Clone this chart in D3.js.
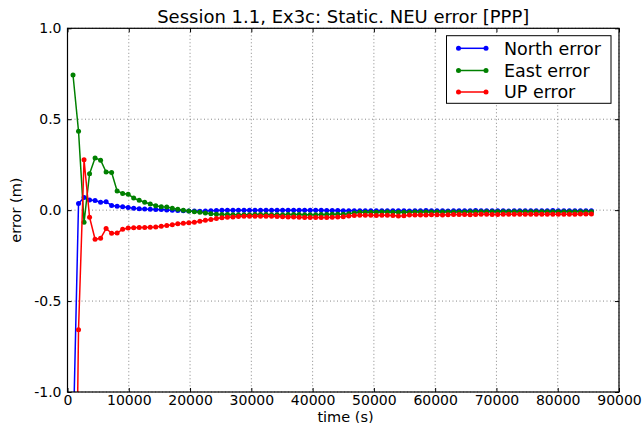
<!DOCTYPE html>
<html>
<head>
<meta charset="utf-8">
<script src="https://cdn.jsdelivr.net/npm/d3@7"></script>
<style>
  html, body { margin: 0; padding: 0; background: #fff; }
  svg { display: block; font-family: "DejaVu Sans", sans-serif; }
</style>
</head>
<body>
<svg id="chart" width="644" height="423"></svg>
<script>
// Epoch spacing of the solution (s); first epoch at 900 s, last at 85500 s
const timeStep = 900;
const epochCount = 95;

const northError = [
  -1.30, 0.037, 0.070, 0.056, 0.053, 0.043, 0.046, 0.026, 0.021, 0.019,
  0.015, 0.011, 0.008, 0.006, 0.005, 0.004, 0.003, 0.001, 0.000, -0.002,
  -0.003, -0.004, -0.005, -0.006, -0.005, -0.003, -0.002, -0.001, 0.000, 0.000,
  0.000, 0.000, 0.000, 0.000, 0.000, 0.000, 0.000, -0.001, -0.001, 0.000,
  0.000, 0.000, 0.000, 0.000, 0.000, -0.001, -0.002, -0.002, -0.002, -0.003,
  -0.003, -0.003, -0.003, -0.003, -0.003, -0.003, -0.003, -0.003, -0.003, -0.003,
  -0.003, -0.004, -0.003, -0.003, -0.002, -0.003, -0.003, -0.003, -0.004, -0.003,
  -0.003, -0.003, -0.003, -0.002, -0.003, -0.003, -0.003, -0.003, -0.003, -0.004,
  -0.003, -0.003, -0.003, -0.003, -0.003, -0.003, -0.003, -0.002, -0.003, -0.003,
  -0.003, -0.003, -0.003, -0.003, -0.003
];

const eastError = [
  0.743, 0.434, -0.067, 0.200, 0.287, 0.275, 0.210, 0.207, 0.105, 0.092,
  0.087, 0.067, 0.054, 0.043, 0.034, 0.024, 0.019, 0.018, 0.010, 0.005,
  0.000, -0.004, -0.009, -0.012, -0.016, -0.020, -0.023, -0.024, -0.024, -0.025,
  -0.025, -0.025, -0.025, -0.024, -0.024, -0.024, -0.025, -0.025, -0.025, -0.024,
  -0.024, -0.024, -0.025, -0.025, -0.025, -0.024, -0.024, -0.023, -0.023, -0.022,
  -0.020, -0.015, -0.012, -0.011, -0.011, -0.011, -0.010, -0.010, -0.011, -0.011,
  -0.011, -0.011, -0.010, -0.010, -0.010, -0.010, -0.010, -0.010, -0.010, -0.010,
  -0.010, -0.010, -0.009, -0.009, -0.009, -0.009, -0.009, -0.009, -0.009, -0.009,
  -0.009, -0.009, -0.009, -0.009, -0.009, -0.009, -0.009, -0.009, -0.009, -0.009,
  -0.009, -0.009, -0.009, -0.009, -0.009
];

const upError = [
  -3.00, -0.657, 0.277, -0.039, -0.160, -0.155, -0.101, -0.127, -0.126, -0.105,
  -0.098, -0.097, -0.096, -0.095, -0.094, -0.093, -0.088, -0.084, -0.080, -0.075,
  -0.072, -0.069, -0.066, -0.061, -0.056, -0.051, -0.046, -0.042, -0.039, -0.037,
  -0.035, -0.034, -0.033, -0.033, -0.033, -0.034, -0.034, -0.035, -0.036, -0.037,
  -0.038, -0.039, -0.040, -0.040, -0.040, -0.040, -0.040, -0.039, -0.038, -0.036,
  -0.032, -0.029, -0.028, -0.028, -0.028, -0.029, -0.028, -0.028, -0.030, -0.032,
  -0.031, -0.027, -0.026, -0.026, -0.026, -0.025, -0.025, -0.026, -0.025, -0.024,
  -0.024, -0.024, -0.025, -0.024, -0.023, -0.023, -0.024, -0.024, -0.023, -0.022,
  -0.023, -0.023, -0.022, -0.022, -0.023, -0.022, -0.022, -0.022, -0.023, -0.022,
  -0.022, -0.022, -0.021, -0.021, -0.021
];

const seriesNames = ["North error", "East error", "UP error"];
const seriesColors = ["#0000ff", "#008000", "#ff0000"];
const xTickValues = [0, 10000, 20000, 30000, 40000, 50000, 60000, 70000, 80000, 90000];
const yTickValues = [-1.0, -0.5, 0.0, 0.5, 1.0];

const titleText = "Session 1.1, Ex3c: Static. NEU error [PPP]";
const xLabelText = "time (s)";
const yLabelText = "error (m)";

const times = d3.range(1, epochCount + 1).map(k => k * timeStep);
const allSeries = [northError, eastError, upError].map((vals, i) => ({
  name: seriesNames[i],
  color: seriesColors[i],
  points: vals.map((v, j) => [times[j], v])
}));

const svg = d3.select("#chart");
const plot = { left: 67.5, right: 619, top: 28.3, bottom: 392 };

const x = d3.scaleLinear().domain([0, 90000]).range([plot.left, plot.right]);
const y = d3.scaleLinear().domain([-1, 1]).range([plot.bottom, plot.top]);

// clip region for the data
svg.append("defs").append("clipPath").attr("id", "plotClip")
  .append("rect")
  .attr("x", plot.left).attr("y", plot.top)
  .attr("width", plot.right - plot.left).attr("height", plot.bottom - plot.top);

// dotted grid
const grid = svg.append("g").attr("class", "grid");
grid.selectAll("line.vx").data(xTickValues).join("line")
  .attr("x1", d => x(d)).attr("x2", d => x(d))
  .attr("y1", plot.top).attr("y2", plot.bottom)
  .attr("stroke", "#6a6a6a").attr("stroke-width", 0.8)
  .attr("stroke-dasharray", "1,2.5");
grid.selectAll("line.hy").data(yTickValues).join("line")
  .attr("x1", plot.left).attr("x2", plot.right)
  .attr("y1", d => y(d)).attr("y2", d => y(d))
  .attr("stroke", "#6a6a6a").attr("stroke-width", 0.8)
  .attr("stroke-dasharray", "1,2.5");

// series lines and markers
const line = d3.line().x(d => x(d[0])).y(d => y(d[1]));
const dataG = svg.append("g").attr("clip-path", "url(#plotClip)");
allSeries.forEach(s => {
  dataG.append("path").datum(s.points)
    .attr("d", line)
    .attr("fill", "none")
    .attr("stroke", s.color)
    .attr("stroke-width", 1.5)
    .attr("stroke-linejoin", "round");
  dataG.append("g").selectAll("circle").data(s.points).join("circle")
    .attr("cx", d => x(d[0])).attr("cy", d => y(d[1]))
    .attr("r", 2.5)
    .attr("fill", s.color);
});

// axes with inward ticks on all four sides
const tickFont = 14;
const fmtY = d => d.toFixed(1);
const axBottom = d3.axisBottom(x).tickValues(xTickValues).tickSizeInner(-4).tickSizeOuter(0).tickPadding(3).tickFormat(d3.format("d"));
const axTop = d3.axisTop(x).tickValues(xTickValues).tickSizeInner(-4).tickSizeOuter(0).tickFormat("");
const axLeft = d3.axisLeft(y).tickValues(yTickValues).tickSizeInner(-4).tickSizeOuter(0).tickPadding(6).tickFormat(fmtY);
const axRight = d3.axisRight(y).tickValues(yTickValues).tickSizeInner(-4).tickSizeOuter(0).tickFormat("");

function styleAxis(g) {
  g.select(".domain").remove();
  g.selectAll(".tick line").attr("stroke", "#000").attr("stroke-width", 1);
  g.selectAll(".tick text").attr("fill", "#000")
    .style("font-family", "'DejaVu Sans', sans-serif")
    .style("font-size", tickFont + "px");
}
svg.append("g").attr("transform", `translate(0,${plot.bottom})`).call(axBottom).call(styleAxis);
svg.append("g").attr("transform", `translate(0,${plot.top})`).call(axTop).call(styleAxis);
svg.append("g").attr("transform", `translate(${plot.left},0)`).call(axLeft).call(styleAxis);
svg.append("g").attr("transform", `translate(${plot.right},0)`).call(axRight).call(styleAxis);

// frame
svg.append("rect")
  .attr("x", plot.left).attr("y", plot.top)
  .attr("width", plot.right - plot.left).attr("height", plot.bottom - plot.top)
  .attr("fill", "none").attr("stroke", "#000").attr("stroke-width", 1.2);

// title and axis labels
svg.append("text")
  .attr("x", (plot.left + plot.right) / 2).attr("y", 23)
  .attr("text-anchor", "middle")
  .style("font-size", "18px")
  .text(titleText);
svg.append("text")
  .attr("x", 345.5).attr("y", 421.5)
  .attr("text-anchor", "middle")
  .style("font-size", "14.5px")
  .text(xLabelText);
svg.append("text")
  .attr("transform", `translate(21,${(plot.top + plot.bottom) / 2}) rotate(-90)`)
  .attr("text-anchor", "middle")
  .style("font-size", "14.5px")
  .text(yLabelText);

// legend
const legend = svg.append("g");
legend.append("rect")
  .attr("x", 446.5).attr("y", 35.7).attr("width", 164.5).attr("height", 67.6)
  .attr("fill", "#fff").attr("stroke", "#000").attr("stroke-width", 1);
const rowY = [48.3, 70.5, 92];
allSeries.forEach((s, i) => {
  const g = legend.append("g");
  g.append("line")
    .attr("x1", 458.5).attr("x2", 486).attr("y1", rowY[i]).attr("y2", rowY[i])
    .attr("stroke", s.color).attr("stroke-width", 1.5);
  g.selectAll("circle").data([458.5, 486]).join("circle")
    .attr("cx", d => d).attr("cy", rowY[i]).attr("r", 2.5).attr("fill", s.color);
  g.append("text")
    .attr("x", 504).attr("y", rowY[i]).attr("dy", "0.36em")
    .style("font-size", "17.5px")
    .text(s.name);
});
</script>
</body>
</html>
